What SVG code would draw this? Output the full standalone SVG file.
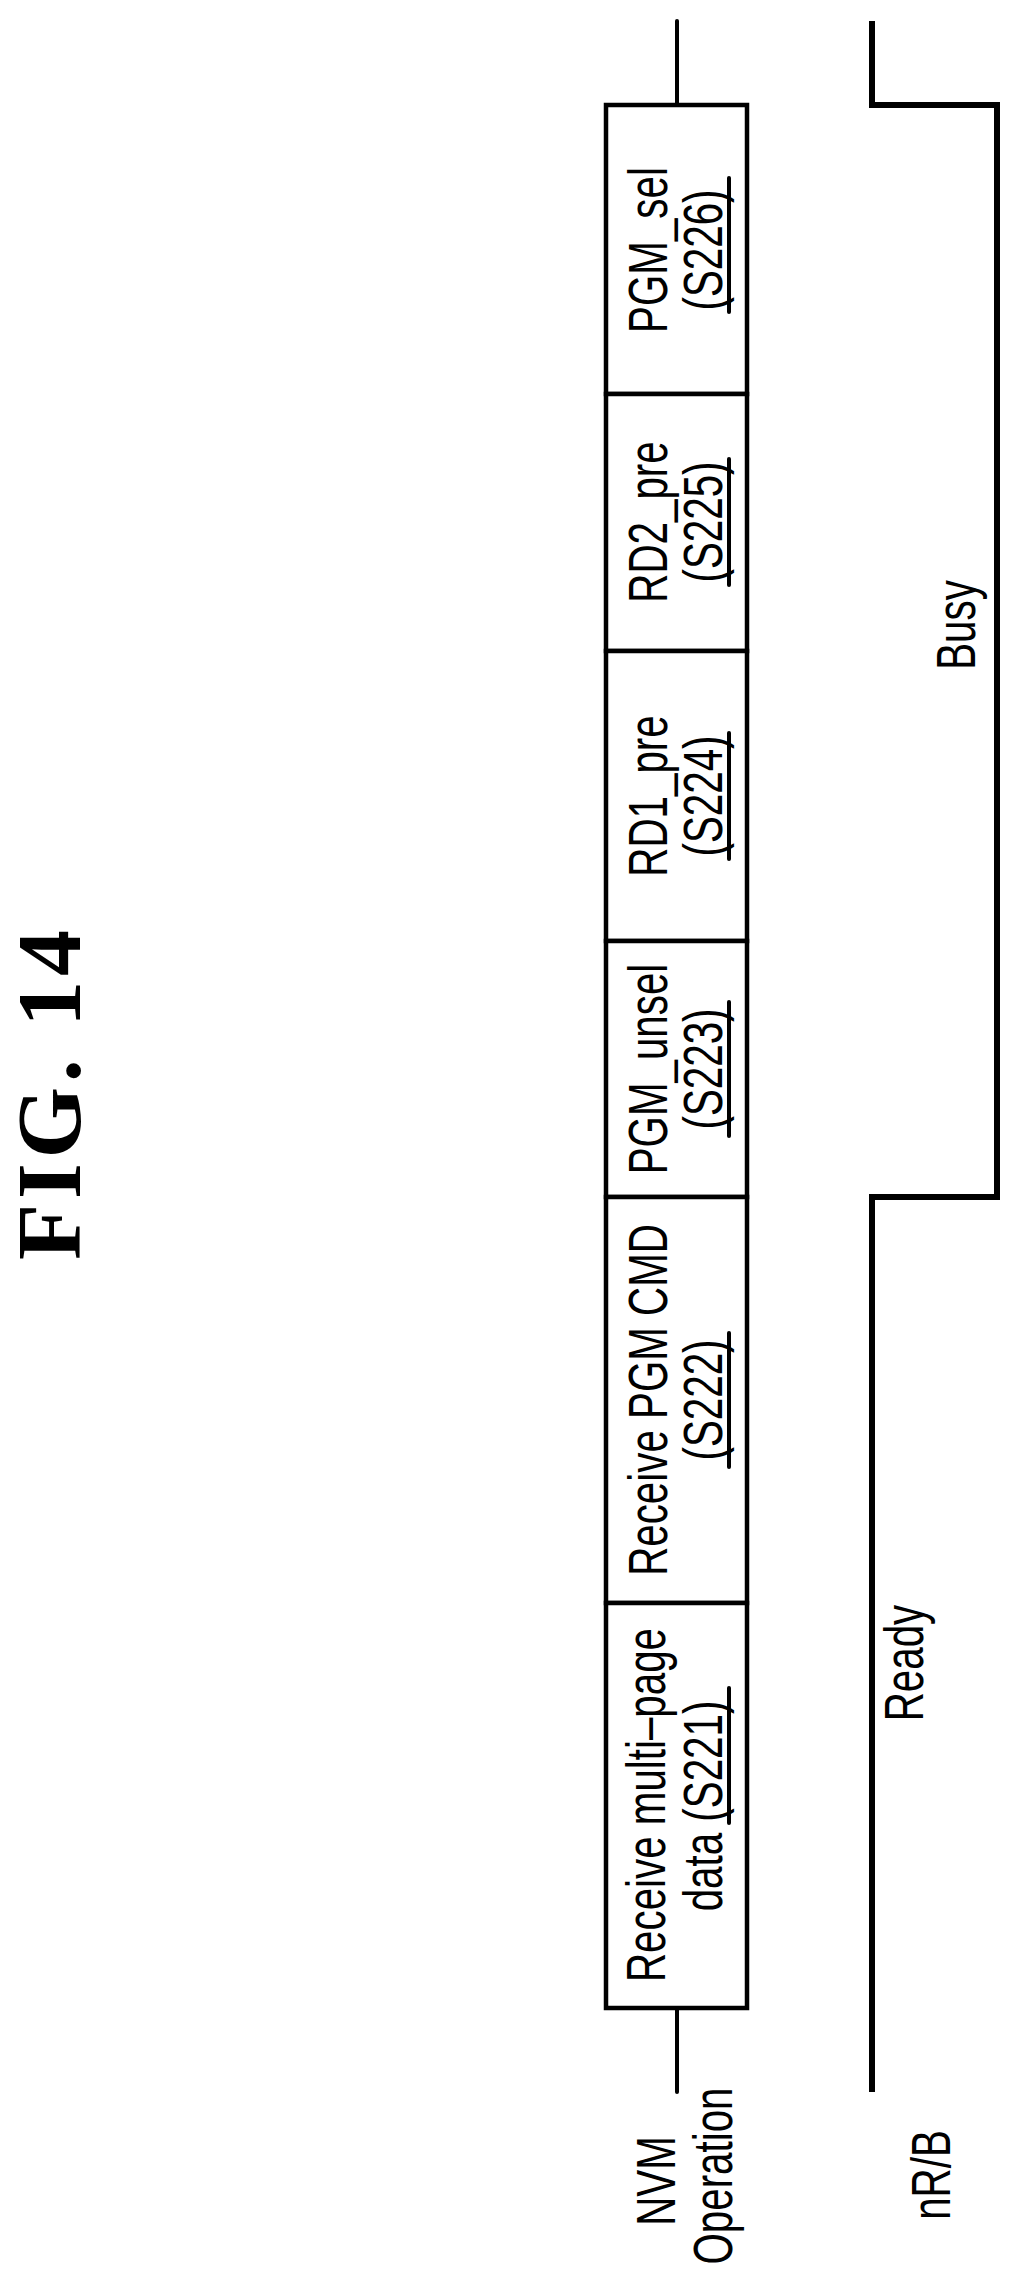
<svg xmlns="http://www.w3.org/2000/svg" width="1021" height="2288" viewBox="0 0 1021 2288">
<style>
.t{font-family:"Liberation Sans",Arial,sans-serif;font-size:56px;fill:#000;text-anchor:middle}
.ln{stroke:#000;stroke-width:4;fill:none;stroke-linecap:round}
.sig{stroke:#000;stroke-width:6;fill:none;stroke-linejoin:miter}
.box{stroke:#000;stroke-width:4.5;fill:#fff}
</style>
<rect width="1021" height="2288" fill="#fff"/>
<text transform="translate(80,1095) rotate(-90)" style="font-family:'Liberation Serif','Times New Roman',serif;font-weight:bold;font-size:92px;text-anchor:middle" textLength="330" lengthAdjust="spacing">FIG. 14</text>
<g id="connectors">
<line class="ln" x1="677" y1="21" x2="677" y2="105"/>
<line class="ln" x1="677" y1="2008" x2="677" y2="2092"/>
<polyline class="sig" points="872,21 872,105 997,105 997,1197 872,1197 872,2092"/>
</g>
<g id="S226"><rect class="box" x="606" y="105" width="141" height="289"/>
<text class="t" transform="translate(667,250) rotate(-90) scale(0.72,1)">PGM_sel</text>
<text class="t" transform="translate(722,250) rotate(-90) scale(0.72,1)">(S226)</text>
<line class="ln" stroke-width="3" x1="729" y1="178" x2="729" y2="312"/></g>
<g id="S225"><rect class="box" x="606" y="394" width="141" height="257"/>
<text class="t" transform="translate(667,522) rotate(-90) scale(0.72,1)">RD2_pre</text>
<text class="t" transform="translate(722,522) rotate(-90) scale(0.72,1)">(S225)</text>
<line class="ln" stroke-width="3" x1="729" y1="459" x2="729" y2="585"/></g>
<g id="S224"><rect class="box" x="606" y="651" width="141" height="290"/>
<text class="t" transform="translate(667,796) rotate(-90) scale(0.72,1)">RD1_pre</text>
<text class="t" transform="translate(722,796) rotate(-90) scale(0.72,1)">(S224)</text>
<line class="ln" stroke-width="3" x1="729" y1="733" x2="729" y2="859"/></g>
<g id="S223"><rect class="box" x="606" y="941" width="141" height="256"/>
<text class="t" transform="translate(667,1069) rotate(-90) scale(0.72,1)">PGM_unsel</text>
<text class="t" transform="translate(722,1069) rotate(-90) scale(0.72,1)">(S223)</text>
<line class="ln" stroke-width="3" x1="729" y1="1002" x2="729" y2="1136"/></g>
<g id="S222"><rect class="box" x="606" y="1197" width="141" height="406"/>
<text class="t" transform="translate(667,1400) rotate(-90) scale(0.72,1)">Receive PGM CMD</text>
<text class="t" transform="translate(722,1400) rotate(-90) scale(0.72,1)">(S222)</text>
<line class="ln" stroke-width="3" x1="729" y1="1333" x2="729" y2="1467"/></g>
<g id="S221"><rect class="box" x="606" y="1603" width="141" height="405"/>
<text class="t" transform="translate(665,1805) rotate(-90) scale(0.72,1)">Receive multi–page</text>
<text class="t" transform="translate(722,1806) rotate(-90) scale(0.72,1)">data  (S221)</text>
<line class="ln" stroke-width="3" x1="729" y1="1688" x2="729" y2="1823"/></g>
<g id="labels">
<text class="t" transform="translate(675,2181) rotate(-90) scale(0.72,1)">NVM</text>
<text class="t" transform="translate(732,2176) rotate(-90) scale(0.72,1)">Operation</text>
<text class="t" transform="translate(950,2175) rotate(-90) scale(0.72,1)">nR/B</text>
<text class="t" transform="translate(923,1663) rotate(-90) scale(0.72,1)">Ready</text>
<text class="t" transform="translate(975,625) rotate(-90) scale(0.72,1)">Busy</text>
</g>
</svg>
